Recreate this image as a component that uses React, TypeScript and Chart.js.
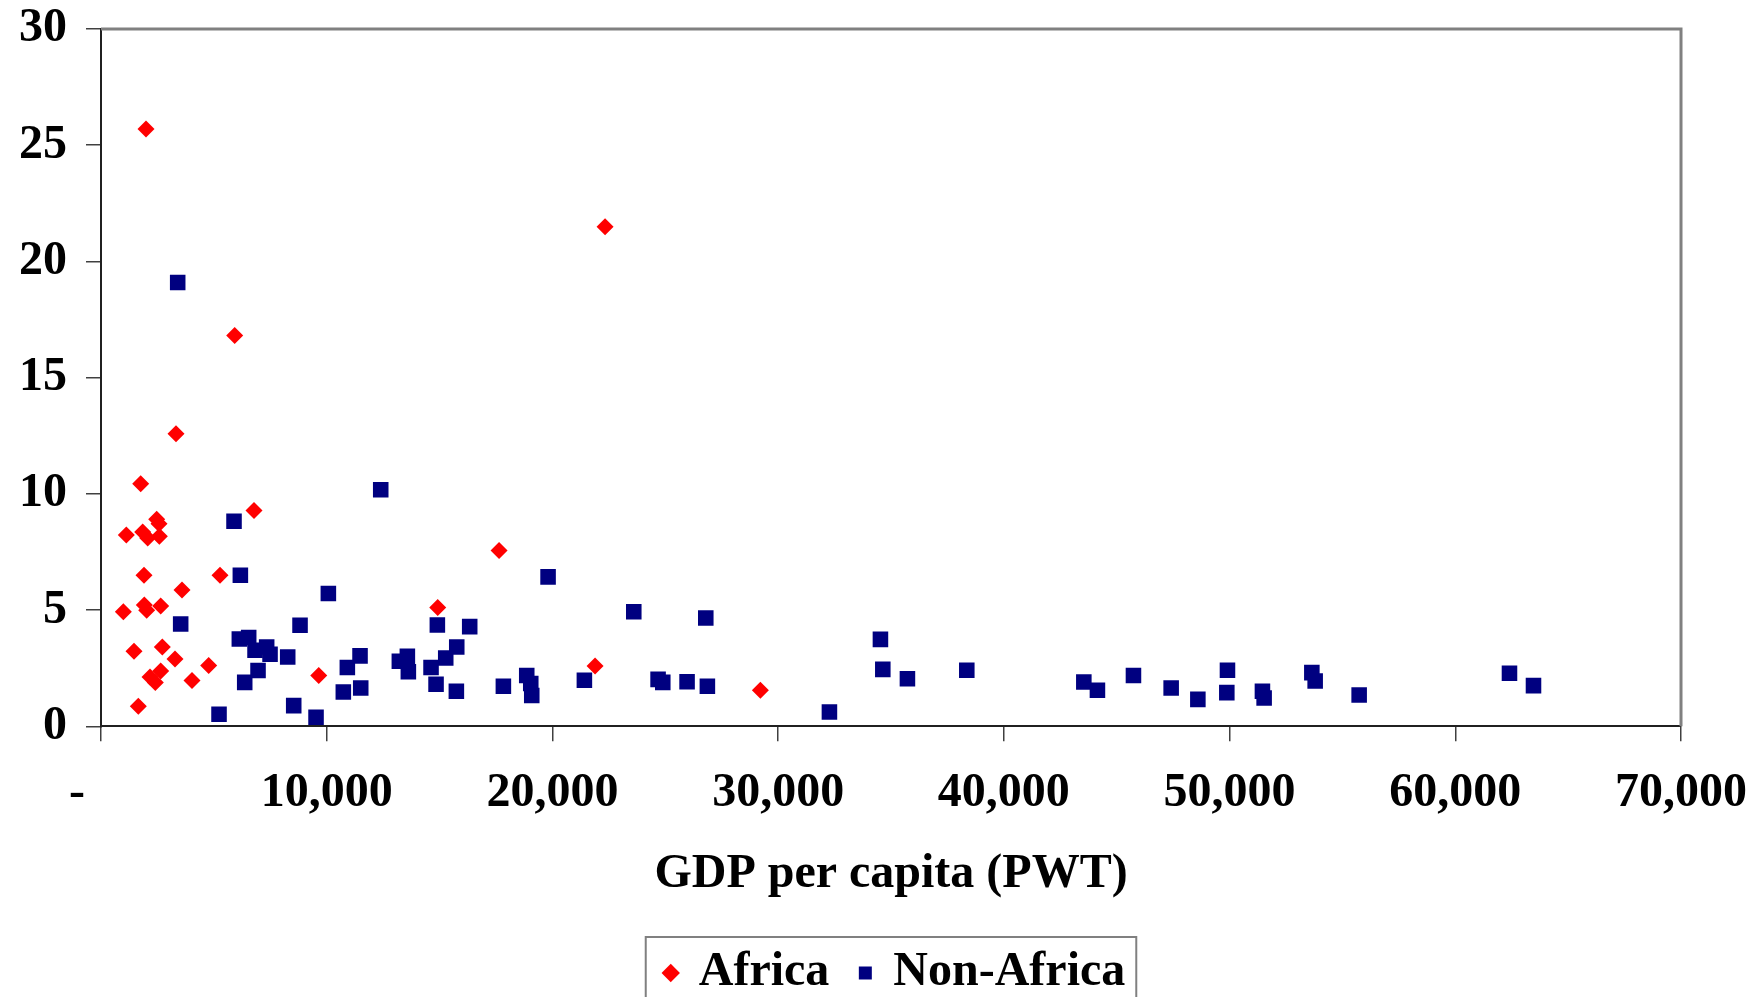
import React, { useEffect, useRef } from 'react';
import { Chart, registerables } from 'chart.js';

Chart.register(...registerables);

const seriesNames = ['Africa', 'Non-Africa'];

const africaGdp = [
  1994, 22332, 5924, 3323, 1758, 6779, 2466, 2570, 1122, 1847, 2069, 2585, 17636,
  1905, 5273, 3589, 990, 1920, 2024, 2645, 14918, 1462, 2717, 3279, 4771, 2171,
  2645, 2406, 4032, 9646, 1653, 21890, 29214,
];
const africaRate = [
  25.7, 21.49, 16.81, 12.59, 10.44, 9.29, 8.91, 8.72, 8.23, 8.36, 8.1, 8.18, 7.56,
  6.5, 6.5, 5.87, 4.93, 5.22, 4.99, 5.18, 5.11, 3.23, 3.41, 2.9, 2.62, 2.12,
  2.38, 1.89, 1.97, 2.19, 0.86, 2.6, 1.55,
];

const nonAfricaGdp = [
  3398, 12393, 5893, 6174, 10073, 3530, 8818, 14902, 16335, 6129, 6543, 7340, 6824,
  7489, 8272, 11476, 10914, 13218, 13573, 13617, 14622, 15273, 15761, 6957, 6367,
  10736, 11507, 14844, 15744, 17827, 5229, 8538, 9527, 19807, 23604, 26794, 34532,
  34637, 35728, 18862, 19040, 19084, 21416, 24681, 24889, 25965, 26865, 32272,
  38358, 43543, 44146, 45742, 47412, 48595, 49907, 49878, 51456, 51531, 53645,
  53792, 55741, 62401, 63465,
];
const nonAfricaRate = [
  19.09, 10.18, 8.82, 6.5, 5.71, 4.4, 4.35, 4.36, 4.29, 3.76, 3.82, 3.41, 3.27,
  3.1, 2.98, 3.03, 2.53, 2.8, 3.01, 2.35, 2.53, 2.94, 3.41, 2.4, 1.89,
  1.48, 1.65, 1.81, 1.51, 1.72, 0.52, 0.89, 0.39, 6.43, 4.93, 4.66, 3.74,
  2.45, 2.05, 2.19, 1.84, 1.33, 1.98, 2.02, 1.89, 1.92, 1.72, 0.62,
  2.41, 1.91, 1.55, 2.19, 1.65, 1.16, 2.41, 1.45, 1.51, 1.22, 2.31,
  1.95, 1.35, 2.28, 1.75,
];

const xTickLabels = ['-', '10,000', '20,000', '30,000', '40,000', '50,000', '60,000', '70,000'];
const yTickLabels = ['0', '5', '10', '15', '20', '25', '30'];
const xAxisTitle = 'GDP per capita (PWT)';

const FONT_FAMILY = '"Liberation Serif", "Times New Roman", serif';
const font = { family: FONT_FAMILY, size: 48, weight: 'bold' as const };
const xTickFont = { ...font, lineHeight: 1.96 };
const yTickFont = { ...font, lineHeight: 0.4 };

const framePlugin = {
  id: 'plotFrame',
  afterLayout(chart: any) {
    const lg = chart.legend;
    if (lg) {
      lg.left += 5;
      lg.right += 5;
    }
  },
  beforeDatasetsDraw(chart: any) {
    const { ctx, chartArea } = chart;
    const { left, top, right, bottom } = chartArea;
    ctx.save();
    ctx.strokeStyle = '#808080';
    ctx.lineWidth = 3;
    ctx.beginPath();
    ctx.moveTo(left, top);
    ctx.lineTo(right, top);
    ctx.lineTo(right, bottom);
    ctx.stroke();
    ctx.restore();
  },
};

const legendBoxPlugin = {
  id: 'legendBox',
  afterDraw(chart: any) {
    const lg = chart.legend;
    const hb = lg && lg.legendHitBoxes;
    if (!hb || !hb.length) return;
    const first = hb[0];
    const last = hb[hb.length - 1];
    const x0 = first.left - 21;
    const x1 = last.left + last.width + 11;
    const y0 = first.top - 12;
    const y1 = first.top + first.height + 30;
    const ctx = chart.ctx;
    ctx.save();
    ctx.strokeStyle = '#808080';
    ctx.lineWidth = 2;
    ctx.strokeRect(x0, y0, x1 - x0, y1 - y0);
    ctx.restore();
  },
};

export default function App() {
  const canvasRef = useRef<HTMLCanvasElement | null>(null);

  useEffect(() => {
    document.body.style.margin = '0';
    document.body.style.overflow = 'hidden';
    document.documentElement.style.overflow = 'hidden';
    const canvas = canvasRef.current;
    if (!canvas) return;

    const chart = new Chart(canvas, {
      type: 'scatter',
      data: {
        datasets: [
          {
            label: seriesNames[0],
            data: africaGdp.map((x, i) => ({ x, y: africaRate[i] })),
            pointStyle: 'rectRot',
            pointRadius: 8.5,
            backgroundColor: '#FF0000',
            borderColor: '#FF0000',
            borderWidth: 0,
          },
          {
            label: seriesNames[1],
            data: nonAfricaGdp.map((x, i) => ({ x, y: nonAfricaRate[i] })),
            pointStyle: 'rect',
            pointRadius: 11,
            backgroundColor: '#000080',
            borderColor: '#000080',
            borderWidth: 0,
          },
        ],
      },
      options: {
        responsive: false,
        animation: false,
        devicePixelRatio: 1,
        layout: { padding: { left: 0, right: 71, top: 29, bottom: 0 } },
        plugins: {
          legend: {
            position: 'bottom',
            fullSize: false,
            labels: {
              usePointStyle: true,
              boxWidth: 8,
              boxHeight: 13,
              padding: 32,
              color: '#000',
              font,
            },
          },
          tooltip: { enabled: false },
        },
        scales: {
          x: {
            type: 'linear',
            min: 0,
            max: 70000,
            ticks: {
              stepSize: 10000,
              padding: 5,
              color: '#000',
              font: xTickFont,
              maxRotation: 0,
              autoSkip: false,
              callback: (value: any) => {
                const i = Math.round(Number(value) / 10000);
                const s = xTickLabels[i] ?? '';
                return i === 0 ? s + '    ' : s;
              },
            },
            grid: {
              drawOnChartArea: false,
              drawTicks: true,
              tickLength: 15,
              color: '#404040',
              lineWidth: 1.5,
            },
            border: { display: true, color: '#202020', width: 2 },
            title: {
              display: true,
              text: xAxisTitle,
              color: '#000',
              font,
              padding: { top: 0, bottom: 14 },
            },
          },
          y: {
            type: 'linear',
            min: 0,
            max: 30,
            ticks: {
              stepSize: 5,
              padding: 19,
              color: '#000',
              font: yTickFont,
              callback: (value: any) => yTickLabels[Math.round(Number(value) / 5)] ?? '',
            },
            grid: {
              drawOnChartArea: false,
              drawTicks: true,
              tickLength: 15,
              color: '#404040',
              lineWidth: 1.5,
            },
            border: { display: true, color: '#202020', width: 2 },
          },
        },
      },
      plugins: [framePlugin, legendBoxPlugin],
    });

    return () => chart.destroy();
  }, []);

  return (
    <div style={{ width: 1752, height: 1007, background: '#fff' }}>
      <canvas ref={canvasRef} width={1752} height={1007} style={{ display: 'block' }} />
    </div>
  );
}
